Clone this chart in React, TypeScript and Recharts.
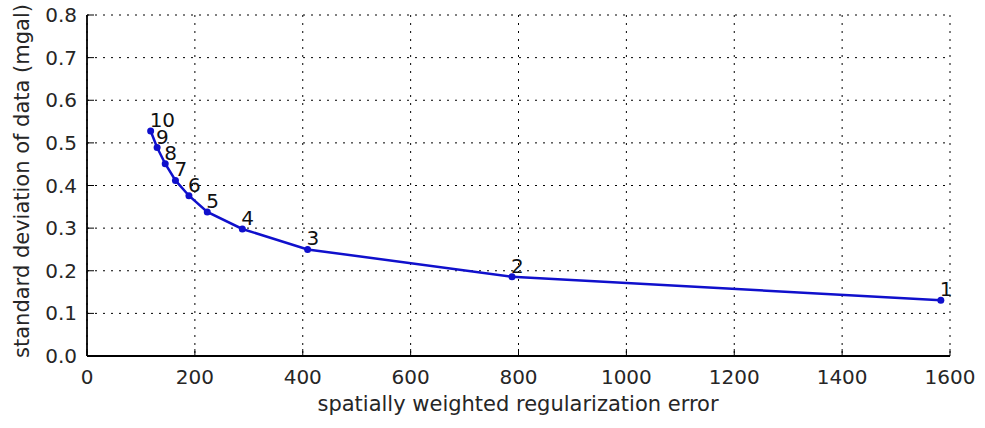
import { CartesianGrid, Label, LabelList, Line, LineChart, XAxis, YAxis } from "recharts";

const steps = [10, 9, 8, 7, 6, 5, 4, 3, 2, 1];
const regError = [118, 130, 145, 164, 189, 223, 288, 409, 788, 1583];
const stdDev = [0.528, 0.489, 0.451, 0.412, 0.376, 0.338, 0.298, 0.25, 0.186, 0.131];

const xTicks = [0, 200, 400, 600, 800, 1000, 1200, 1400, 1600];
const yTicks = [0, 0.1, 0.2, 0.3, 0.4, 0.5, 0.6, 0.7, 0.8];

const data = steps.map((n, i) => ({ n, x: regError[i], y: stdDev[i] }));

const FONT = "'DejaVu Sans', sans-serif";
const TEXT = "#262626";
const BLUE = "#1010cc";
const TICK = 7;

const BottomTick = (props: any) => {
  const { x, y, payload } = props;
  return (
    <g>
      <line x1={x} y1={y} x2={x} y2={y - TICK} stroke="#000" strokeWidth={1} />
      <text x={x} y={y + 28} textAnchor="middle" fontSize={20} fontFamily={FONT} fill={TEXT}>
        {payload.value}
      </text>
    </g>
  );
};

const TopTick = (props: any) => {
  const { x, y } = props;
  return <line x1={x} y1={y} x2={x} y2={y + TICK} stroke="#000" strokeWidth={1} />;
};

const LeftTick = (props: any) => {
  const { x, y, payload } = props;
  return (
    <g>
      <line x1={x} y1={y} x2={x + TICK} y2={y} stroke="#000" strokeWidth={1} />
      <text x={x - 10} y={y + 7} textAnchor="end" fontSize={20} fontFamily={FONT} fill={TEXT}>
        {Number(payload.value).toFixed(1)}
      </text>
    </g>
  );
};

const RightTick = (props: any) => {
  const { x, y } = props;
  return <line x1={x} y1={y} x2={x - TICK} y2={y} stroke="#000" strokeWidth={1} />;
};

const PointLabel = (props: any) => {
  const { x, y, value } = props;
  return (
    <text x={x - 1} y={y - 4} fontSize={20} fontFamily={FONT} fill="#111">
      {value}
    </text>
  );
};

const frame = { stroke: "#000", strokeWidth: 1.8 };

export default function App() {
  return (
    <div style={{ position: "absolute", left: 0, top: 0, width: 985, height: 428, background: "#fff" }}>
      <LineChart width={985} height={428} data={data} margin={{ top: 15, right: 35, bottom: 0, left: 0 }}>
        <CartesianGrid stroke="#000" strokeWidth={1} strokeDasharray="2 6" />
        <XAxis
          type="number"
          dataKey="x"
          domain={[0, 1600]}
          ticks={xTicks}
          height={72}
          tickSize={0}
          tickMargin={0}
          tickLine={false}
          axisLine={frame}
          tick={<BottomTick />}
          interval={0}
        >
          <Label
            content={() => (
              <text x={518} y={411} textAnchor="middle" fontSize={21} fontFamily={FONT} fill={TEXT}>
                spatially weighted regularization error
              </text>
            )}
          />
        </XAxis>
        <XAxis
          xAxisId="top"
          orientation="top"
          type="number"
          dataKey="x"
          domain={[0, 1600]}
          ticks={xTicks}
          height={0}
          tickSize={0}
          tickMargin={0}
          tickLine={false}
          axisLine={frame}
          tick={<TopTick />}
          interval={0}
        />
        <YAxis
          type="number"
          domain={[0, 0.8]}
          ticks={yTicks}
          width={87}
          tickSize={0}
          tickMargin={0}
          tickLine={false}
          axisLine={frame}
          tick={<LeftTick />}
          interval={0}
        >
          <Label
            content={() => (
              <text
                transform="translate(22,181) rotate(-90)"
                textAnchor="middle"
                dominantBaseline="central"
                fontSize={21}
                fontFamily={FONT}
                fill={TEXT}
              >
                standard deviation of data (mgal)
              </text>
            )}
          />
        </YAxis>
        <YAxis
          yAxisId="right"
          orientation="right"
          type="number"
          domain={[0, 0.8]}
          ticks={yTicks}
          width={0}
          tickSize={0}
          tickMargin={0}
          tickLine={false}
          axisLine={frame}
          tick={<RightTick />}
          interval={0}
        />
        <Line
          dataKey="y"
          type="linear"
          stroke={BLUE}
          strokeWidth={2.5}
          dot={{ r: 3.5, fill: BLUE, stroke: BLUE, strokeWidth: 0 }}
          activeDot={false}
          isAnimationActive={false}
        >
          <LabelList dataKey="n" content={<PointLabel />} />
        </Line>
      </LineChart>
    </div>
  );
}
